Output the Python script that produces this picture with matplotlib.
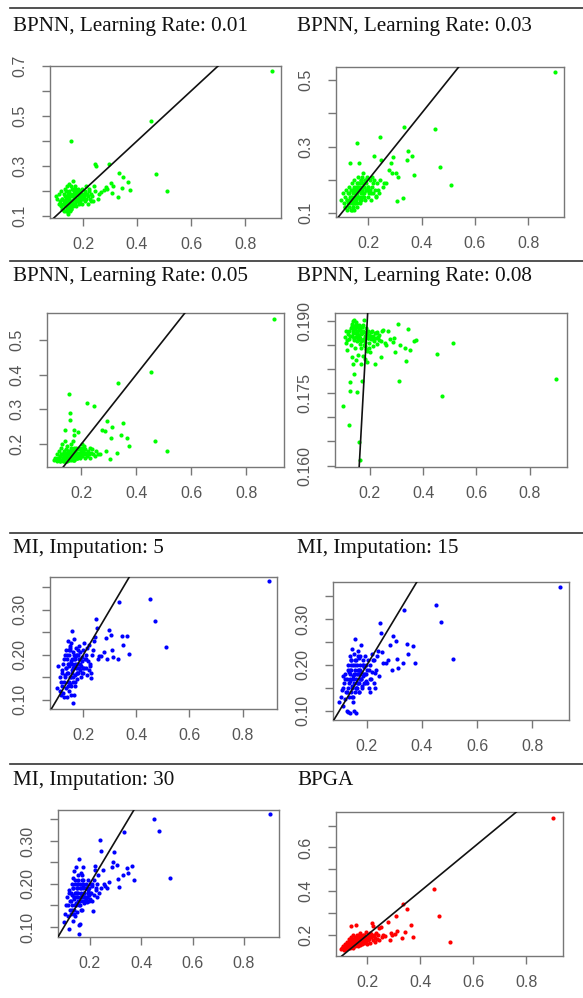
import matplotlib
matplotlib.use("Agg")
import matplotlib.pyplot as plt
import numpy as np

# observed values (shared by all panels)
x_obs = [
    0.100, 0.105, 0.110, 0.112, 0.115, 0.118, 0.120, 0.122, 0.124, 0.126,
    0.128, 0.130, 0.131, 0.133, 0.134, 0.136, 0.137, 0.139, 0.140, 0.141,
    0.143, 0.144, 0.145, 0.147, 0.148, 0.149, 0.150, 0.152, 0.153, 0.154,
    0.156, 0.157, 0.158, 0.160, 0.161, 0.162, 0.164, 0.165, 0.166, 0.168,
    0.169, 0.170, 0.172, 0.173, 0.175, 0.176, 0.178, 0.180, 0.182, 0.184,
    0.186, 0.188, 0.190, 0.192, 0.194, 0.196, 0.198, 0.200, 0.203, 0.206,
    0.208, 0.210, 0.213, 0.215, 0.218, 0.220, 0.222, 0.225, 0.228, 0.230,
    0.233, 0.236, 0.240, 0.243, 0.246, 0.250, 0.255, 0.260,
    0.268, 0.277, 0.285, 0.290, 0.295, 0.305, 0.309, 0.313, 0.330, 0.334,
    0.344, 0.350, 0.366, 0.373, 0.452, 0.470, 0.512, 0.900,
    0.115, 0.121, 0.127, 0.132, 0.135, 0.138, 0.142, 0.146, 0.151, 0.155,
    0.159, 0.163, 0.167, 0.171, 0.174, 0.177, 0.181, 0.185, 0.189, 0.193,
    0.138, 0.144, 0.150, 0.156, 0.162, 0.168, 0.174, 0.180, 0.186, 0.197,
    0.140, 0.146, 0.152, 0.158, 0.164, 0.170, 0.176, 0.201, 0.211, 0.224,
]

# predicted values per method
y_lr01 = [
    0.18, 0.17, 0.19, 0.15, 0.16, 0.14, 0.20, 0.13, 0.17, 0.15,
    0.12, 0.19, 0.16, 0.14, 0.21, 0.12, 0.17, 0.15, 0.22, 0.13,
    0.18, 0.16, 0.11, 0.20, 0.14, 0.23, 0.17, 0.12, 0.19, 0.15,
    0.40, 0.13, 0.21, 0.18, 0.16, 0.24, 0.14, 0.20, 0.17, 0.19,
    0.15, 0.22, 0.18, 0.16, 0.20, 0.14, 0.19, 0.17, 0.21, 0.15,
    0.18, 0.20, 0.16, 0.19, 0.17, 0.21, 0.15, 0.19, 0.18, 0.16,
    0.20, 0.17, 0.22, 0.19, 0.15, 0.18, 0.21, 0.17, 0.16, 0.19,
    0.18, 0.16, 0.22, 0.20, 0.31, 0.30, 0.17, 0.19,
    0.195, 0.205, 0.218, 0.21, 0.31, 0.231, 0.193, 0.22, 0.178, 0.271,
    0.213, 0.258, 0.238, 0.204, 0.48, 0.27, 0.20, 0.68,
    0.15, 0.17, 0.13, 0.18, 0.15, 0.20, 0.14, 0.17, 0.19, 0.13,
    0.16, 0.21, 0.15, 0.18, 0.20, 0.16, 0.19, 0.17, 0.20, 0.18,
    0.16, 0.19, 0.13, 0.22, 0.15, 0.18, 0.17, 0.20, 0.16, 0.18,
    0.12, 0.15, 0.18, 0.14, 0.19, 0.21, 0.16, 0.17, 0.19, 0.20,
]
y_lr03 = [
    0.14, 0.16, 0.13, 0.15, 0.12, 0.17, 0.14, 0.11, 0.16, 0.13,
    0.18, 0.12, 0.15, 0.25, 0.14, 0.11, 0.17, 0.13, 0.19, 0.15,
    0.12, 0.16, 0.14, 0.18, 0.11, 0.20, 0.15, 0.13, 0.17, 0.14,
    0.16, 0.312, 0.16, 0.12, 0.19, 0.15, 0.21, 0.25, 0.17, 0.13,
    0.18, 0.15, 0.20, 0.16, 0.14, 0.19, 0.17, 0.22, 0.15, 0.18,
    0.16, 0.20, 0.14, 0.19, 0.17, 0.21, 0.15, 0.18, 0.16, 0.20,
    0.17, 0.14, 0.21, 0.18, 0.16, 0.19, 0.273, 0.17, 0.15, 0.152,
    0.19, 0.17, 0.16, 0.20, 0.328, 0.26, 0.18, 0.19,
    0.19, 0.23, 0.25, 0.22, 0.27, 0.22, 0.138, 0.21, 0.147, 0.36,
    0.26, 0.288, 0.273, 0.215, 0.352, 0.24, 0.185, 0.525,
    0.12, 0.14, 0.16, 0.13, 0.15, 0.17, 0.12, 0.14, 0.16, 0.18,
    0.13, 0.15, 0.17, 0.19, 0.14, 0.16, 0.18, 0.15, 0.20, 0.17,
    0.14, 0.13, 0.16, 0.15, 0.18, 0.14, 0.20, 0.16, 0.19, 0.17,
    0.11, 0.17, 0.13, 0.19, 0.15, 0.17, 0.21, 0.18, 0.16, 0.20,
]
y_lr05 = [
    0.155, 0.16, 0.15, 0.17, 0.155, 0.16, 0.18, 0.15, 0.165, 0.19,
    0.155, 0.17, 0.20, 0.16, 0.15, 0.175, 0.165, 0.21, 0.24, 0.155,
    0.17, 0.16, 0.185, 0.15, 0.175, 0.195, 0.16, 0.155, 0.18, 0.17,
    0.345, 0.165, 0.27, 0.289, 0.18, 0.155, 0.19, 0.17, 0.16, 0.185,
    0.175, 0.21, 0.155, 0.227, 0.24, 0.165, 0.18, 0.17, 0.19, 0.16,
    0.175, 0.234, 0.165, 0.185, 0.17, 0.16, 0.19, 0.175, 0.165, 0.18,
    0.17, 0.195, 0.16, 0.185, 0.175, 0.165, 0.318, 0.18, 0.17, 0.19,
    0.16, 0.175, 0.185, 0.17, 0.31, 0.165, 0.18, 0.17,
    0.17, 0.24, 0.237, 0.179, 0.265, 0.157, 0.217, 0.25, 0.174, 0.377,
    0.227, 0.26, 0.217, 0.195, 0.406, 0.21, 0.18, 0.56,
    0.16, 0.15, 0.17, 0.155, 0.16, 0.18, 0.15, 0.165, 0.17, 0.155,
    0.175, 0.16, 0.18, 0.165, 0.155, 0.17, 0.185, 0.16, 0.175, 0.19,
    0.15, 0.17, 0.16, 0.18, 0.165, 0.155, 0.19, 0.17, 0.16, 0.18,
    0.165, 0.15, 0.175, 0.16, 0.20, 0.165, 0.17, 0.20, 0.185, 0.17,
]
y_lr08 = [
    0.1723, 0.1868, 0.1880, 0.1855, 0.1840, 0.1873, 0.1684, 0.1862, 0.1755, 0.1773,
    0.1850, 0.1885, 0.1826, 0.1870, 0.1895, 0.1812, 0.1880, 0.1790, 0.1860, 0.1903,
    0.1875, 0.1845, 0.1890, 0.1820, 0.1868, 0.1898, 0.1752, 0.1880, 0.1858, 0.1887,
    0.1872, 0.1830, 0.1893, 0.1649, 0.1865, 0.1882, 0.1611, 0.1845, 0.1876, 0.1810,
    0.1775, 0.1888, 0.1860, 0.1828, 0.1878, 0.1850, 0.1902, 0.1870, 0.1822, 0.1885,
    0.1842, 0.1875, 0.1815, 0.1866, 0.1880, 0.1855, 0.1872, 0.1835, 0.1877, 0.1862,
    0.1880, 0.1848, 0.1870, 0.1858, 0.1810, 0.1875, 0.1865, 0.1852, 0.1878, 0.1868,
    0.1860, 0.1872, 0.1825, 0.1858, 0.1880, 0.1882, 0.1855, 0.1850,
    0.1880, 0.1862, 0.1856, 0.1866, 0.1836, 0.1894, 0.1775, 0.1850, 0.1845, 0.1817,
    0.1884, 0.1840, 0.1858, 0.1860, 0.1831, 0.1745, 0.1854, 0.1779,
    0.1860, 0.1880, 0.1870, 0.1890, 0.1875, 0.1885, 0.1865, 0.1895, 0.1878, 0.1888,
    0.1868, 0.1882, 0.1858, 0.1876, 0.1892, 0.1862, 0.1848, 0.1872, 0.1838, 0.1866,
    0.1900, 0.1884, 0.1870, 0.1860, 0.1888, 0.1874, 0.1880, 0.1856, 0.1878, 0.1844,
    0.1866, 0.1892, 0.1876, 0.1886, 0.1852, 0.1890, 0.1864, 0.1870, 0.1862, 0.1876,
]
y_mi5 = [
    0.126, 0.174, 0.12, 0.15, 0.11, 0.165, 0.13, 0.115, 0.18, 0.14,
    0.105, 0.20, 0.155, 0.125, 0.21, 0.17, 0.105, 0.19, 0.14, 0.23,
    0.16, 0.12, 0.20, 0.175, 0.135, 0.215, 0.15, 0.185, 0.11, 0.225,
    0.165, 0.252, 0.19, 0.093, 0.14, 0.205, 0.175, 0.11, 0.235, 0.155,
    0.195, 0.13, 0.215, 0.17, 0.145, 0.20, 0.18, 0.16, 0.22, 0.19,
    0.165, 0.205, 0.175, 0.15, 0.195, 0.185, 0.21, 0.16, 0.225, 0.19,
    0.17, 0.20, 0.155, 0.215, 0.185, 0.165, 0.222, 0.174, 0.16, 0.148,
    0.20, 0.21, 0.23, 0.24, 0.279, 0.259, 0.19, 0.198,
    0.197, 0.206, 0.237, 0.19, 0.256, 0.244, 0.211, 0.194, 0.19, 0.317,
    0.242, 0.222, 0.242, 0.201, 0.324, 0.276, 0.216, 0.363,
    0.14, 0.16, 0.19, 0.15, 0.17, 0.20, 0.13, 0.18, 0.21, 0.15,
    0.17, 0.19, 0.14, 0.20, 0.16, 0.18, 0.21, 0.17, 0.19, 0.16,
    0.16, 0.14, 0.22, 0.18, 0.15, 0.19, 0.17, 0.20, 0.18, 0.17,
    0.18, 0.21, 0.13, 0.16, 0.20, 0.18, 0.16, 0.17, 0.19, 0.18,
]
y_mi15 = [
    0.12, 0.13, 0.146, 0.175, 0.11, 0.16, 0.125, 0.18, 0.14, 0.10,
    0.17, 0.098, 0.20, 0.15, 0.185, 0.13, 0.22, 0.095, 0.165, 0.21,
    0.14, 0.19, 0.235, 0.155, 0.20, 0.12, 0.175, 0.225, 0.16, 0.10,
    0.19, 0.256, 0.14, 0.21, 0.17, 0.095, 0.20, 0.15, 0.23, 0.18,
    0.16, 0.215, 0.19, 0.14, 0.20, 0.17, 0.243, 0.185, 0.155, 0.21,
    0.175, 0.195, 0.16, 0.22, 0.18, 0.20, 0.165, 0.16, 0.21, 0.19,
    0.15, 0.142, 0.20, 0.17, 0.225, 0.185, 0.21, 0.16, 0.182, 0.149,
    0.19, 0.22, 0.23, 0.175, 0.292, 0.269, 0.229, 0.205,
    0.204, 0.211, 0.243, 0.19, 0.263, 0.253, 0.214, 0.193, 0.204, 0.32,
    0.246, 0.223, 0.241, 0.205, 0.33, 0.294, 0.214, 0.370,
    0.15, 0.17, 0.14, 0.19, 0.16, 0.18, 0.21, 0.13, 0.17, 0.20,
    0.15, 0.18, 0.22, 0.16, 0.19, 0.17, 0.15, 0.20, 0.18, 0.16,
    0.17, 0.20, 0.13, 0.18, 0.15, 0.19, 0.22, 0.17, 0.20, 0.18,
    0.19, 0.15, 0.18, 0.21, 0.16, 0.14, 0.18, 0.19, 0.17, 0.21,
]
y_mi30 = [
    0.112, 0.13, 0.15, 0.17, 0.125, 0.185, 0.096, 0.14, 0.16, 0.18,
    0.13, 0.20, 0.15, 0.175, 0.115, 0.19, 0.215, 0.14, 0.165, 0.23,
    0.18, 0.125, 0.20, 0.155, 0.24, 0.17, 0.19, 0.135, 0.21, 0.16,
    0.18, 0.257, 0.084, 0.104, 0.108, 0.20, 0.15, 0.225, 0.17, 0.19,
    0.14, 0.21, 0.175, 0.24, 0.16, 0.195, 0.18, 0.155, 0.17, 0.20,
    0.165, 0.158, 0.17, 0.185, 0.21, 0.175, 0.19, 0.165, 0.20, 0.18,
    0.16, 0.195, 0.137, 0.175, 0.21, 0.232, 0.242, 0.185, 0.17, 0.20,
    0.22, 0.18, 0.302, 0.277, 0.19, 0.232, 0.20, 0.195,
    0.19, 0.205, 0.24, 0.25, 0.274, 0.245, 0.211, 0.193, 0.22, 0.322,
    0.238, 0.225, 0.242, 0.209, 0.35, 0.324, 0.215, 0.362,
    0.15, 0.18, 0.16, 0.14, 0.19, 0.17, 0.21, 0.15, 0.18, 0.20,
    0.16, 0.19, 0.14, 0.17, 0.21, 0.18, 0.16, 0.19, 0.17, 0.18,
    0.17, 0.15, 0.19, 0.22, 0.16, 0.18, 0.20, 0.17, 0.19, 0.16,
    0.13, 0.18, 0.20, 0.15, 0.17, 0.22, 0.19, 0.18, 0.20, 0.19,
]
y_bpga = [
    0.135, 0.14, 0.15, 0.13, 0.16, 0.145, 0.135, 0.17, 0.15, 0.14,
    0.16, 0.145, 0.18, 0.155, 0.14, 0.17, 0.15, 0.19, 0.243, 0.16,
    0.175, 0.145, 0.165, 0.20, 0.155, 0.18, 0.16, 0.17, 0.15, 0.19,
    0.165, 0.245, 0.175, 0.155, 0.20, 0.17, 0.16, 0.185, 0.15, 0.175,
    0.19, 0.165, 0.21, 0.155, 0.18, 0.17, 0.195, 0.16, 0.185, 0.175,
    0.20, 0.165, 0.18, 0.19, 0.17, 0.215, 0.16, 0.185, 0.175, 0.20,
    0.18, 0.165, 0.19, 0.205, 0.256, 0.24, 0.175, 0.195, 0.17, 0.185,
    0.21, 0.18, 0.20, 0.175, 0.23, 0.238, 0.19, 0.20,
    0.195, 0.258, 0.177, 0.21, 0.20, 0.205, 0.288, 0.22, 0.185, 0.341,
    0.215, 0.319, 0.246, 0.189, 0.41, 0.288, 0.17, 0.736,
    0.14, 0.15, 0.16, 0.145, 0.155, 0.17, 0.15, 0.16, 0.18, 0.165,
    0.17, 0.155, 0.18, 0.175, 0.19, 0.165, 0.18, 0.20, 0.175, 0.19,
    0.15, 0.165, 0.155, 0.17, 0.185, 0.16, 0.18, 0.19, 0.17, 0.185,
    0.16, 0.14, 0.17, 0.18, 0.16, 0.20, 0.185, 0.19, 0.21, 0.20,
]

titles = ["BPNN, Learning Rate: 0.01", "BPNN, Learning Rate: 0.03",
          "BPNN, Learning Rate: 0.05", "BPNN, Learning Rate: 0.08",
          "MI, Imputation: 5", "MI, Imputation: 15",
          "MI, Imputation: 30", "BPGA"]
series = [y_lr01, y_lr03, y_lr05, y_lr08, y_mi5, y_mi15, y_mi30, y_bpga]
colors = ["#00ff00"] * 4 + ["#0000ff"] * 3 + ["#ff0000"]

# y ticks and which ones get a label
yticks = [
    ([0.1, 0.2, 0.3, 0.4, 0.5, 0.6, 0.7], [0.1, 0.3, 0.5, 0.7], "%.1f"),
    ([0.1, 0.2, 0.3, 0.4, 0.5], [0.1, 0.3, 0.5], "%.1f"),
    ([0.2, 0.3, 0.4, 0.5], [0.2, 0.3, 0.4, 0.5], "%.1f"),
    ([0.160, 0.165, 0.170, 0.175, 0.180, 0.185, 0.190], [0.160, 0.175, 0.190], "%.3f"),
    ([0.10, 0.15, 0.20, 0.25, 0.30, 0.35], [0.10, 0.20, 0.30], "%.2f"),
    ([0.10, 0.15, 0.20, 0.25, 0.30, 0.35], [0.10, 0.20, 0.30], "%.2f"),
    ([0.10, 0.15, 0.20, 0.25, 0.30, 0.35], [0.10, 0.20, 0.30], "%.2f"),
    ([0.2, 0.3, 0.4, 0.5, 0.6, 0.7], [0.2, 0.4, 0.6], "%.1f"),
]
xticks = [0.2, 0.4, 0.6, 0.8]

# panel boxes in pixels (left, top, right, bottom) and axis limits
W, H = 583, 998
boxes = [(50, 66, 281, 218), (336, 67, 564, 217),
         (47, 313, 284, 467), (335, 313, 567, 467),
         (50, 577, 277, 709), (333, 582, 569, 720),
         (58, 810, 279, 937), (336, 812, 563, 956)]
xlims = [(0.078, 0.933), (0.080, 0.933), (0.075, 0.938), (0.069, 0.940),
         (0.074, 0.930), (0.077, 0.933), (0.077, 0.936), (0.082, 0.938)]
ylims = [(0.092, 0.700), (0.089, 0.539), (0.134, 0.577), (0.1597, 0.1917),
         (0.079, 0.373), (0.080, 0.381), (0.0767, 0.372), (0.104, 0.762)]
title_pos = [(13, 31), (297, 31), (13, 281), (297, 281),
             (13, 553), (297, 553), (13, 785), (297, 785)]
sep_rows = [8, 261, 533, 764]

fig = plt.figure(figsize=(W / 100, H / 100), dpi=100)

for y in sep_rows:
    fig.add_artist(plt.Line2D([10 / W, 1], [1 - y / H, 1 - y / H],
                              color="#333333", lw=1.2))

for i in range(8):
    l, t, r, b = boxes[i]
    ax = fig.add_axes([l / W, 1 - b / H, (r - l) / W, (b - t) / H])
    ax.scatter(x_obs, series[i], s=9, color=colors[i], linewidths=0, zorder=2)
    ax.axline((0, 0), (1, 1), color="#111111", lw=1.2, zorder=3)
    ax.set_xlim(*xlims[i])
    ax.set_ylim(*ylims[i])
    ticks, labelled, fmt = yticks[i]
    ax.set_yticks(ticks)
    ax.set_yticklabels([fmt % v if v in labelled else "" for v in ticks],
                       rotation=90, va="center")
    ax.set_xticks(xticks)
    ax.set_xticklabels(["%.1f" % v for v in xticks])
    for sp in ax.spines.values():
        sp.set_color("#777777")
        sp.set_linewidth(1.0)
    ax.tick_params(length=6, width=1.0, color="#777777",
                   labelsize=11.5, labelcolor="#555555")
    ax.tick_params(axis="x", pad=8)
    ax.tick_params(axis="y", pad=10)
    for lab in ax.get_xticklabels() + ax.get_yticklabels():
        lab.set_family("Liberation Sans")
    tx, ty = title_pos[i]
    fig.text(tx / W, 1 - ty / H, titles[i], family="Liberation Serif",
             fontsize=15.2, color="#111111", va="baseline", ha="left")

fig.savefig("out.png", dpi=100)
